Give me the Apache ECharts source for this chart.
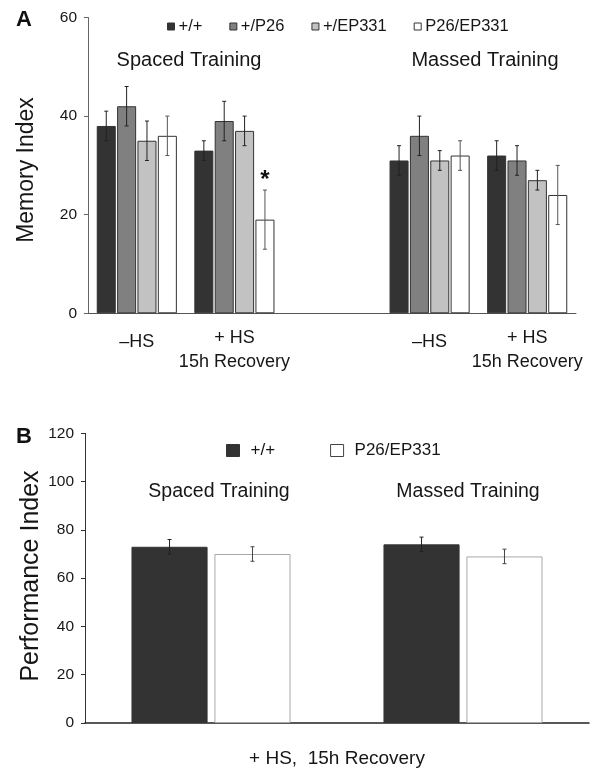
<!DOCTYPE html>
<html><head><meta charset="utf-8">
<script src="https://cdn.jsdelivr.net/npm/echarts@6/dist/echarts.min.js"></script>
<style>html,body{margin:0;padding:0;background:#fff}#c{width:602px;height:768px}</style>
</head><body><div id="c"></div>
<script>
// ---- Panel A data ----
const catsA = ['–HS', '+ HS\n15h Recovery', '', '–HS', '+ HS\n15h Recovery'];
const groupTitlesA = ['Spaced Training', 'Massed Training'];
const namesA = ['+/+', '+/P26', '+/EP331', 'P26/EP331'];
const wtA   = [38, 33, null, 31, 32];
const wtErrA = [3, 2, null, 3, 3];
const p26A  = [42, 39, null, 36, 31];
const p26ErrA = [4, 4, null, 4, 3];
const ep331A = [35, 37, null, 31, 27];
const ep331ErrA = [4, 3, null, 2, 2];
const transA = [36, 19, null, 32, 24];
const transErrA = [4, 6, null, 3, 6];
const sigA = ['', '*', '', '', ''];
const yTicksA = [0, 20, 40, 60];
// ---- Panel B data ----
const catsB = ['Spaced Training', 'Massed Training'];
const namesB = ['+/+', 'P26/EP331'];
const wtB = [73, 74];
const wtErrB = [3, 3];
const transB = [70, 69];
const transErrB = [3, 3];
const yTicksB = [0, 20, 40, 60, 80, 100, 120];
const xNameB = '+ HS,  15h Recovery';

const FONT = 'Liberation Sans, Arial, Helvetica, sans-serif';
const TXT = '#161616';

const gridA = {left: 88, top: 17.5, width: 488, height: 295.8};
const gridB = {left: 85, top: 433.3, width: 504, height: 289.7};

const barPctA = 0.195, gapPctA = 0.07;
const barPctB = 0.302, gapPctB = 0.09;

const colorsA = ['#333333', '#808080', '#c2c2c2', '#ffffff'];
const valsA = [wtA, p26A, ep331A, transA];
const errsA = [wtErrA, p26ErrA, ep331ErrA, transErrA];

function errRender(k, n, barPct, gapPct, capHalf, color) {
  return function (params, api) {
    const x = api.value(0), v = api.value(1), e = api.value(2);
    const mark = api.value(3);
    const band = api.size([1, 0])[0];
    const bw = band * barPct, gap = bw * gapPct;
    const off = (k - (n - 1) / 2) * (bw + gap);
    const top = api.coord([x, v + e]);
    const bot = api.coord([x, v - e]);
    const cx = top[0] + off;
    const st = {stroke: color, lineWidth: 1};
    const children = [
      {type: 'line', shape: {x1: cx, y1: top[1], x2: cx, y2: bot[1]}, style: st},
      {type: 'line', shape: {x1: cx - capHalf, y1: top[1], x2: cx + capHalf, y2: top[1]}, style: st},
      {type: 'line', shape: {x1: cx - capHalf, y1: bot[1], x2: cx + capHalf, y2: bot[1]}, style: st}
    ];
    if (mark) {
      children.push({type: 'text', style: {text: mark, x: cx, y: top[1] - 10, align: 'center', verticalAlign: 'middle',
        font: 'bold 24px ' + FONT, fill: '#111'}});
    }
    return {type: 'group', children: children};
  };
}

const series = [];
valsA.forEach((vals, k) => {
  series.push({
    name: namesA[k], type: 'bar', xAxisIndex: 0, yAxisIndex: 0,
    data: vals.map(v => v == null ? '-' : v),
    barWidth: (barPctA * 100) + '%', barGap: (gapPctA * 100) + '%',
    itemStyle: {color: colorsA[k], borderColor: '#333', borderWidth: 1},
    emphasis: {disabled: true}, animation: false, z: 2
  });
});
valsA.forEach((vals, k) => {
  const data = [];
  vals.forEach((v, i) => { if (v != null) data.push([i, v, errsA[k][i], k === 3 ? sigA[i] : '']); });
  series.push({
    type: 'custom', xAxisIndex: 0, yAxisIndex: 0, data: data,
    renderItem: errRender(k, 4, barPctA, gapPctA, 2, k === 3 ? '#555' : '#222'),
    animation: false, z: 5, silent: true
  });
});
// Panel B
const colorsB = ['#333333', '#ffffff'];
const valsB = [wtB, transB], errsB = [wtErrB, transErrB];
valsB.forEach((vals, k) => {
  series.push({
    name: namesB[k], type: 'bar', xAxisIndex: 1, yAxisIndex: 1,
    data: vals, barWidth: (barPctB * 100) + '%', barGap: (gapPctB * 100) + '%',
    itemStyle: {color: colorsB[k], borderColor: k === 0 ? '#333' : '#a8a8a8', borderWidth: 1},
    emphasis: {disabled: true}, animation: false, z: 2
  });
});
valsB.forEach((vals, k) => {
  series.push({
    type: 'custom', xAxisIndex: 1, yAxisIndex: 1,
    data: vals.map((v, i) => [i, v, errsB[k][i], '']),
    renderItem: errRender(k, 2, barPctB, gapPctB, 2, k === 0 ? '#222' : '#444'),
    animation: false, z: 5, silent: true
  });
});

const chart = echarts.init(document.getElementById('c'), null, {renderer: 'canvas'});

function yAxis(gi, max, color) {
  return {
    type: 'value', gridIndex: gi, min: 0, max: max, interval: 20,
    axisLine: {show: true, lineStyle: {color: color, width: 1}},
    axisTick: {show: true, inside: false, length: 4, lineStyle: {color: color}},
    splitLine: {show: false},
    axisLabel: {color: TXT, fontSize: 15.5, fontFamily: FONT, margin: 11}
  };
}

const option = {
  backgroundColor: '#fff',
  animation: false,
  textStyle: {fontFamily: FONT},
  grid: [
    Object.assign({outerBoundsMode: 'none', containLabel: false}, gridA),
    Object.assign({outerBoundsMode: 'none', containLabel: false}, gridB)
  ],
  legend: [
    {
      data: namesA.map((n, k) => ({name: n, itemStyle: {color: colorsA[k], borderColor: '#333', borderWidth: 1}})),
      left: 162, top: 13, itemWidth: 7, itemHeight: 7, itemGap: 27, icon: 'rect',
      textStyle: {fontSize: 16.5, color: TXT, fontFamily: FONT, padding: [0, 0, 0, -1]},
      selectedMode: false
    },
    {
      data: namesB.map((n, k) => ({name: n, itemStyle: {color: colorsB[k], borderColor: k === 0 ? '#333' : '#444', borderWidth: 1}})),
      left: 221, top: 437, itemWidth: 13, itemHeight: 12, itemGap: 55, icon: 'rect',
      textStyle: {fontSize: 17, color: TXT, fontFamily: FONT, padding: [0, 0, 0, 6]},
      selectedMode: false
    }
  ],
  xAxis: [
    {
      type: 'category', gridIndex: 0, data: catsA,
      axisLine: {lineStyle: {color: '#555', width: 1}}, axisTick: {show: false},
      axisLabel: {
        interval: 0, margin: 13, color: TXT, fontSize: 18, lineHeight: 24, fontFamily: FONT,
        formatter: v => v.indexOf('\n') < 0 && v !== '' ? '{d|' + v + '}' : v,
        rich: {d: {fontSize: 18, fontFamily: FONT, color: TXT, padding: [8, 0, 0, 0]}}
      }
    },
    {
      type: 'category', gridIndex: 1, data: catsB,
      axisLine: {lineStyle: {color: '#222', width: 1.5}}, axisTick: {show: false},
      axisLabel: {show: false},
      name: xNameB, nameLocation: 'middle', nameGap: 26,
      nameTextStyle: {fontSize: 19, color: TXT, fontFamily: FONT}
    }
  ],
  yAxis: [yAxis(0, 60, '#666'), yAxis(1, 120, '#333')],
  graphic: [
    {type: 'text', left: 16, top: 9, style: {text: 'A', font: 'bold 22px ' + FONT, fill: '#111'}},
    {type: 'text', left: 16, top: 426, style: {text: 'B', font: 'bold 22px ' + FONT, fill: '#111'}},
    {type: 'text', x: 189, y: 60, style: {text: groupTitlesA[0], font: '20px ' + FONT, fill: TXT, align: 'center', verticalAlign: 'middle'}},
    {type: 'text', x: 485, y: 60, style: {text: groupTitlesA[1], font: '20px ' + FONT, fill: TXT, align: 'center', verticalAlign: 'middle'}},
    {type: 'text', x: 219, y: 492, style: {text: catsB[0], font: '19.5px ' + FONT, fill: TXT, align: 'center', verticalAlign: 'middle'}},
    {type: 'text', x: 468, y: 492, style: {text: catsB[1], font: '19.5px ' + FONT, fill: TXT, align: 'center', verticalAlign: 'middle'}},
    {type: 'text', x: 27, y: 170, rotation: Math.PI / 2, style: {text: 'Memory Index', font: '23px ' + FONT, fill: TXT, align: 'center', verticalAlign: 'middle'}},
    {type: 'text', x: 31, y: 576, rotation: Math.PI / 2, style: {text: 'Performance Index', font: '25px ' + FONT, fill: TXT, align: 'center', verticalAlign: 'middle'}}
  ],
  series: series
};
chart.setOption(option);
</script>
</body></html>
